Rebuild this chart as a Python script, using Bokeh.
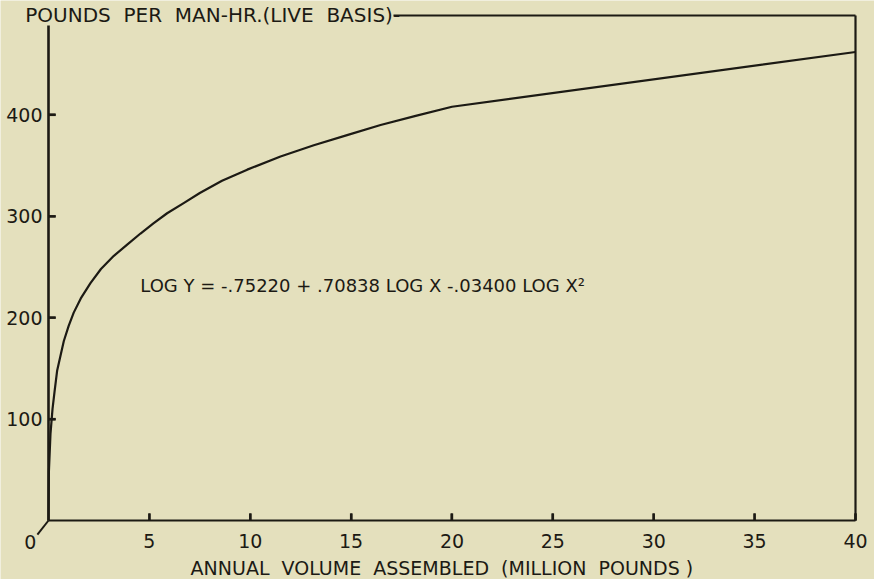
from bokeh.plotting import figure
from bokeh.models import LinearAxis, Label, Arrow, FixedTicker, Range1d, ColumnDataSource
from bokeh.embed import file_html
from bokeh.resources import INLINE

# Data (annual volume in million pounds, pounds per man-hour)
volume = [0, 0.02, 0.1, 0.2, 0.3, 0.43, 0.6, 0.76, 1.0, 1.25, 1.6, 2.08, 2.6, 3.24, 3.9, 4.56, 5.2, 5.88, 6.7, 7.5, 8.6, 9.85, 11.5, 13.15, 14.8, 16.46, 18.2, 20, 40]
pounds = [0, 48, 86, 110, 127, 148, 163, 177, 192, 205, 219, 234, 248, 261, 272, 283, 293, 303, 313, 323, 335, 346, 359, 370, 380, 390, 399, 408, 462]
x_ticks = [5, 10, 15, 20, 25, 30, 35, 40]
y_ticks = [100, 200, 300, 400]

PAPER = "#e4e0bd"
INK = "#1c1a14"
FONT = "DejaVu Sans"
NB = "\u00a0"

X_MAX, Y_MAX, Y_AXIS_TOP, TOP_LINE_START = 40, 498, 488, 17.1
X_TICK_LEN, Y_TICK_LEN = 7.0, 0.36   # ~7 px inward, in data units

p = figure(width=874, height=579, output_backend="svg", toolbar_location=None,
           x_range=Range1d(-2.379, 40.942), y_range=Range1d(-58.18, 512.79),
           min_border=0,
           background_fill_color=PAPER, border_fill_color=PAPER, outline_line_color=None)
p.grid.visible = False

src = ColumnDataSource(dict(x=volume, y=pounds))
p.line("x", "y", source=src, line_color=INK, line_width=2.2, line_join="round")

# inward tick marks
tick_xs = [[t, t] for t in x_ticks] + [[0, Y_TICK_LEN] for _ in y_ticks]
tick_ys = [[0, X_TICK_LEN] for _ in x_ticks] + [[t, t] for t in y_ticks]
tick_src = ColumnDataSource(dict(xs=tick_xs, ys=tick_ys))
p.multi_line("xs", "ys", source=tick_src, line_color=INK, line_width=2.4, level="overlay")


def style(ax, width):
    ax.axis_line_color = INK
    ax.axis_line_width = width
    ax.major_tick_line_color = INK
    ax.major_tick_line_width = 2
    ax.major_tick_in = 7
    ax.major_tick_out = 0
    ax.minor_tick_line_color = None
    ax.major_label_text_font = FONT
    ax.major_label_text_font_size = "19px"
    ax.major_label_text_color = INK


xa, ya = p.xaxis[0], p.yaxis[0]
style(xa, 2.2)
style(ya, 2.6)
xa.fixed_location = 0
ya.fixed_location = 0
xa.bounds = (0, X_MAX)
ya.bounds = (0, Y_AXIS_TOP)
xa.ticker = FixedTicker(ticks=x_ticks)
ya.ticker = FixedTicker(ticks=y_ticks)
xa.major_label_standoff = 13
ya.major_label_standoff = 6

right = LinearAxis(ticker=FixedTicker(ticks=[]), major_label_text_font_size="0px",
                   axis_line_color=INK, axis_line_width=2.2, major_tick_line_color=None,
                   minor_tick_line_color=None, fixed_location=X_MAX, bounds=(0, Y_MAX))
p.add_layout(right, "right")
top = LinearAxis(ticker=FixedTicker(ticks=[]), major_label_text_font_size="0px",
                 axis_line_color=INK, axis_line_width=1.8, major_tick_line_color=None,
                 minor_tick_line_color=None, fixed_location=Y_MAX, bounds=(TOP_LINE_START, X_MAX))
p.add_layout(top, "above")

p.add_layout(Label(x=-1.15, y=498,
                   text="POUNDS" + NB + " PER" + NB + " MAN-HR.(LIVE" + NB + " BASIS)-",
                   text_font=FONT, text_font_size="20px", text_color=INK,
                   text_baseline="middle", text_align="left"))
p.add_layout(Label(x=4.55, y=232, text="LOG Y = -.75220 + .70838 LOG X -.03400 LOG X\u00b2",
                   text_font=FONT, text_font_size="18px", text_color=INK,
                   text_baseline="middle", text_align="left"))
p.add_layout(Label(x=19.5, y=-46.5,
                   text="ANNUAL" + NB + " VOLUME" + NB + " ASSEMBLED" + NB + " (MILLION" + NB + " POUNDS" + NB + ")",
                   text_font=FONT, text_font_size="19px", text_color=INK,
                   text_baseline="middle", text_align="center"))
p.add_layout(Label(x=-0.9, y=-21, text="0", text_font=FONT, text_font_size="19px",
                   text_color=INK, text_baseline="middle", text_align="center"))
p.add_layout(Arrow(x_start=0, y_start=0, x_end=-0.55, y_end=-14, start=None, end=None,
                   line_color=INK, line_width=2))

open("out.html", "w").write(file_html(p, INLINE))
